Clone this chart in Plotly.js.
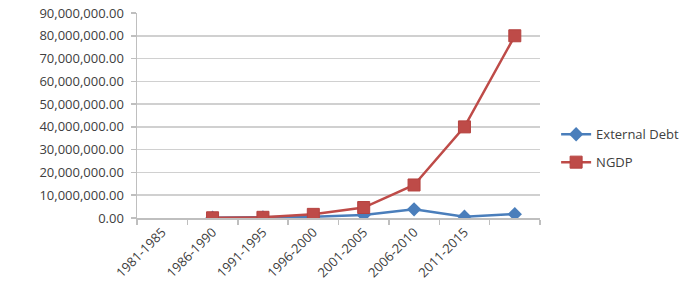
<!DOCTYPE html>
<html>
<head>
<meta charset="utf-8">
<script src="https://cdn.plot.ly/plotly-3.0.1.min.js"></script>
<style>html,body{margin:0;padding:0;background:#fff;}#chart{width:700px;height:290px;}</style>
</head>
<body>
<div id="chart"></div>
<script>
// Category labels (8th category has no label in the reference)
var categories = ["1981-1985", "1986-1990", "1991-1995", "1996-2000", "2001-2005", "2006-2010", "2011-2015", ""];
// Series values (plotted from the 2nd category onward, as in the reference)
var externalDebt = [null, 100000, 250000, 600000, 1300000, 3800000, 600000, 1700000];
var ngdp = [null, 100000, 300000, 1600000, 4600000, 14500000, 40000000, 80000000];
var yTicks = [0, 10000000, 20000000, 30000000, 40000000, 50000000, 60000000, 70000000, 80000000, 90000000];

var xIdx = categories.map(function (c, i) { return i; });

var fam = "Open Sans, Noto Sans, sans-serif";
var tickFont = {family: fam, size: 13, color: "#404040"};

var traces = [
  {
    x: xIdx, y: externalDebt, name: "External Debt", mode: "lines+markers", legendgroup: "a",
    line: {color: "#4A7EBB", width: 2.5},
    marker: {symbol: "diamond", size: 11, color: "#4A7EBB"}
  },
  {
    x: xIdx, y: ngdp, name: "NGDP", mode: "lines+markers", legendgroup: "b",
    line: {color: "#BE4B48", width: 2.5},
    marker: {symbol: "square", size: 12, color: "#BE4B48", line: {color: "#B5423F", width: 1}}
  }
];

var layout = {
  width: 700, height: 290,
  margin: {l: 137, r: 160, t: 13, b: 72},
  paper_bgcolor: "#ffffff", plot_bgcolor: "#ffffff",
  font: tickFont,
  showlegend: true,
  legend: {x: 1.04, y: 0.34, xanchor: "left", yanchor: "middle", font: {family: fam, size: 13, color: "#404040"}, itemwidth: 30, tracegroupgap: 8},
  xaxis: {
    range: [-0.5, 7.5],
    tickmode: "array", tickvals: xIdx, ticktext: categories,
    tickangle: -45, ticks: "", ticklen: 0,
    showgrid: false, zeroline: false,
    showline: true, linecolor: "#BFBFBF", linewidth: 1.5,
    minor: {tick0: -0.5, dtick: 1, ticks: "outside", ticklen: 5, tickcolor: "#BFBFBF", tickwidth: 1.5, showgrid: false},
    tickfont: tickFont,
    fixedrange: true
  },
  yaxis: {
    range: [0, 90000000],
    tickmode: "array", tickvals: yTicks,
    tickformat: ",.2f",
    ticks: "outside", ticklen: 5, tickcolor: "#BFBFBF", tickwidth: 1.5,
    showgrid: true, gridcolor: "#D0D0D0", gridwidth: 1.5,
    zeroline: false,
    showline: true, linecolor: "#BFBFBF", linewidth: 1.5,
    tickfont: tickFont,
    ticklabelstandoff: 4,
    fixedrange: true
  }
};

Plotly.newPlot("chart", traces, layout, {displayModeBar: false, staticPlot: true});
</script>
</body>
</html>
